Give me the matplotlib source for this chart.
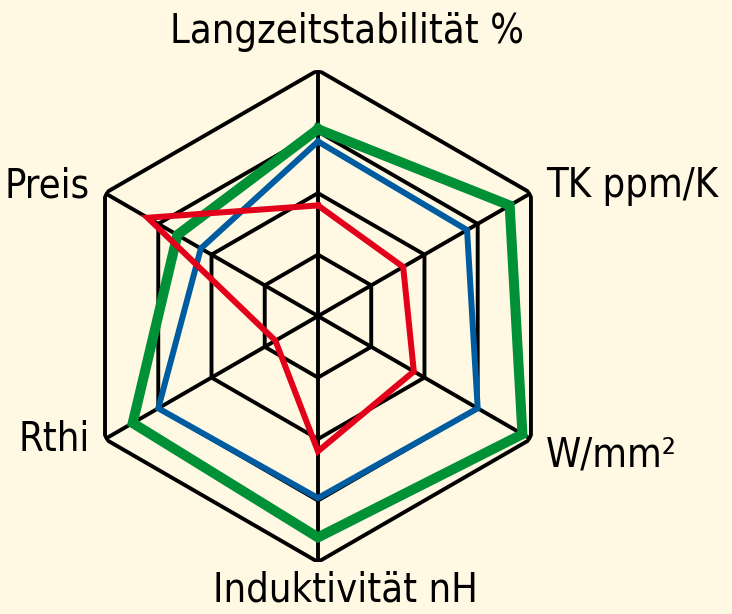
import matplotlib.pyplot as plt
import numpy as np

plt.rcParams['font.family'] = ['DejaVu Sans']
plt.rcParams['font.stretch'] = 'condensed'

# axes clockwise from top
categories = ['Langzeitstabilität %', 'TK ppm/K', 'W/mm²', 'Induktivität nH', 'Rthi', 'Preis']
green = [0.76, 0.90, 0.96, 0.90, 0.87, 0.66]
blue = [0.71, 0.70, 0.75, 0.74, 0.75, 0.55]
red = [0.45, 0.40, 0.45, 0.55, 0.20, 0.80]
rings = [0.25, 0.5, 0.75, 1.0]

bg = '#FFF8E3'
fig = plt.figure(figsize=(7.32, 6.14), dpi=100, facecolor=bg)
ax = fig.add_axes([0.0984, 0.0847, 0.672, 0.801], projection='polar')
ax.set_facecolor('none')
ax.set_theta_offset(np.pi / 2)
ax.set_theta_direction(-1)
ax.set_ylim(0, 1)
ax.grid(False)
ax.spines['polar'].set_visible(False)
ax.set_xticks([])
ax.set_yticks([])

n = len(categories)
theta = np.arange(n) * 2 * np.pi / n
tc = np.append(theta, theta[0])

for r in rings:
    ax.plot(tc, [r] * (n + 1), color='black', lw=2.8, zorder=1)
for t in theta:
    ax.plot([t, t], [0, 1], color='black', lw=2.8, zorder=1)

def closed(v):
    return np.append(v, v[0])

ax.plot(tc, closed(green), color='#009036', lw=7.2, zorder=3, solid_joinstyle='miter')
ax.plot(tc, closed(blue), color='#005CA0', lw=4.3, zorder=4, solid_joinstyle='miter')
ax.plot(tc, closed(red), color='#E2001A', lw=4.3, zorder=5, solid_joinstyle='miter')

fs = 28.5
fig.text(347 / 732, 1 - 32 / 614, categories[0], ha='center', va='center', fontsize=fs)
fig.text(546 / 732, 1 - 186 / 614, categories[1], ha='left', va='center', fontsize=fs)
fig.text(546 / 732, 1 - 455 / 614, categories[2], ha='left', va='center', fontsize=fs)
fig.text(345 / 732, 1 - 590 / 614, categories[3], ha='center', va='center', fontsize=fs)
fig.text(90 / 732, 1 - 440 / 614, categories[4], ha='right', va='center', fontsize=fs)
fig.text(90 / 732, 1 - 186 / 614, categories[5], ha='right', va='center', fontsize=fs)

fig.savefig('out.png', dpi=100, facecolor=bg)
